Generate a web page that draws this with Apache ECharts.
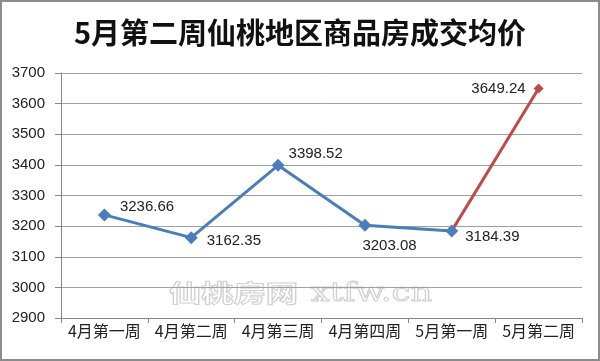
<!DOCTYPE html>
<html><head><meta charset="utf-8">
<script src="https://cdn.jsdelivr.net/npm/echarts@6/dist/echarts.min.js"></script>
<style>
html,body{margin:0;padding:0;background:#fff;}
#wrap{width:600px;height:361px;box-sizing:border-box;border:2px solid #8c8c8c;position:relative;background:#fff;}
#c{position:absolute;left:-2px;top:-2px;width:600px;height:361px;}
</style></head>
<body><div id="wrap"><div id="c"></div></div>
<script>
var titleText = '5月第二周仙桃地区商品房成交均价';
var categories = ['4月第一周','4月第二周','4月第三周','4月第四周','5月第一周','5月第二周'];
var blueValues = [3236.66, 3162.35, 3398.52, 3203.08, 3184.39, null];
var redValues = [null, null, null, null, 3184.39, 3649.24];
var yMin = 2900, yMax = 3700, yStep = 100;
var watermarkCN = '仙桃房网', watermarkEN = 'xtfw.cn';

var labelFont = {fontFamily:'Liberation Sans', fontSize:15, color:'#222'};
var labelCfg = [
  {position:'right', offset:[4,-8]},
  {position:'right', offset:[4,3]},
  {position:'right', offset:[-1,-11]},
  {position:'right', offset:[-14,21]},
  {position:'right', offset:[2,6]}
];
var blueData = blueValues.map(function(v,i){
  if (v===null) return null;
  return {value:v, label:Object.assign({show:true, formatter:function(p){return p.value.toFixed(2);}}, labelFont, labelCfg[i])};
});
var redData = redValues.map(function(v,i){
  if (v===null) return null;
  if (i===5) return {value:v, symbol:'diamond', symbolSize:10, label:Object.assign({show:true, position:'left', offset:[-3,0], formatter:function(p){return p.value.toFixed(2);}}, labelFont)};
  return {value:v, symbol:'none', label:{show:false}};
});

var chart = echarts.init(document.getElementById('c'), null, {renderer:'canvas'});
chart.setOption({
  animation:false,
  backgroundColor:'transparent',
  title:{text:titleText, left:'center', top:13, textStyle:{fontFamily:'Noto Sans CJK SC', fontWeight:'bold', fontSize:29, color:'#111'}},
  grid:{left:61, right:18, top:73, bottom:43},
  graphic:[
    {type:'text', left:168, top:280, z:0, silent:true, scaleX:1.35, style:{text:watermarkCN, font:'bold 24px "Noto Sans CJK SC"', fill:'rgba(255,255,255,0)', stroke:'#d0d0d0', lineWidth:1}},
    {type:'text', left:310, top:281, z:0, silent:true, scaleX:1.3, style:{text:watermarkEN, font:'26px "DejaVu Serif"', fill:'rgba(255,255,255,0)', stroke:'#d0d0d0', lineWidth:1}}
  ],
  xAxis:{type:'category', data:categories, boundaryGap:true,
    axisLine:{lineStyle:{color:'#868686', width:1}},
    axisTick:{show:true, length:5, alignWithLabel:false, lineStyle:{color:'#868686'}},
    axisLabel:{fontFamily:'Noto Sans CJK SC', fontSize:16, color:'#222', margin:5, interval:0}},
  yAxis:{type:'value', min:yMin, max:yMax, interval:yStep,
    axisLine:{show:true, lineStyle:{color:'#868686', width:1}},
    axisTick:{show:true, length:6, lineStyle:{color:'#868686'}},
    splitLine:{lineStyle:{color:'#a0a0a0', width:1}},
    axisLabel:{fontFamily:'Liberation Sans', fontSize:15, color:'#222', margin:16, formatter:function(v){return String(v);}}},
  series:[
    {type:'line', data:redData, connectNulls:false, z:2, lineStyle:{color:'#be4b48', width:3}, itemStyle:{color:'#be4b48'}, symbol:'diamond', symbolSize:10},
    {type:'line', data:blueData, connectNulls:false, z:3, lineStyle:{color:'#4a7ebb', width:3}, itemStyle:{color:'#4a7ebb'}, symbol:'diamond', symbolSize:13}
  ]
});
</script></body></html>
